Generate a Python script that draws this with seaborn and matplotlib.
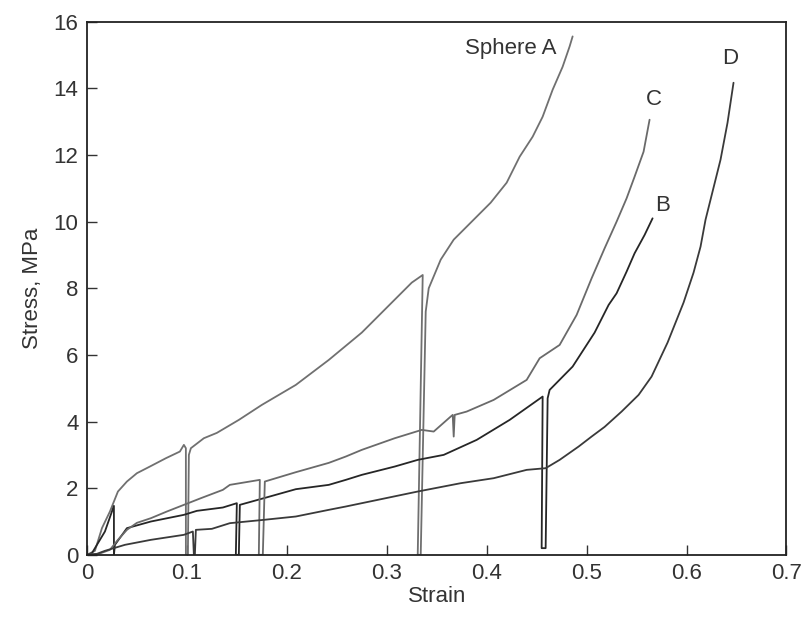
import pandas as pd
import seaborn as sns
import matplotlib.pyplot as plt

# strain / stress points (vertical segments = unload/reload)
strain_a = [0.0, 0.008, 0.015, 0.023, 0.031, 0.04, 0.05, 0.063, 0.079, 0.093, 0.097, 0.099,
            0.099, 0.101, 0.102, 0.104, 0.117, 0.13, 0.152, 0.175, 0.209, 0.242, 0.275, 0.291,
            0.308, 0.325, 0.336, 0.331, 0.334, 0.339, 0.342, 0.354, 0.367, 0.387, 0.404, 0.42,
            0.433, 0.446, 0.456, 0.466, 0.476, 0.483, 0.486]
stress_a = [0.0, 0.12, 0.8, 1.3, 1.9, 2.2, 2.45, 2.65, 2.9, 3.1, 3.3, 3.2,
            0.0, 0.0, 3.0, 3.2, 3.5, 3.66, 4.05, 4.5, 5.1, 5.85, 6.67, 7.15,
            7.66, 8.17, 8.4, 0.0, 0.0, 7.3, 8.0, 8.86, 9.46, 10.06, 10.57, 11.17,
            11.95, 12.55, 13.15, 13.96, 14.65, 15.26, 15.56]

strain_b = [0.0, 0.005, 0.018, 0.027, 0.027, 0.028, 0.04, 0.064, 0.097, 0.11, 0.136, 0.15,
            0.149, 0.152, 0.153, 0.177, 0.209, 0.242, 0.259, 0.275, 0.308, 0.331, 0.357, 0.39,
            0.423, 0.456, 0.455, 0.459, 0.461, 0.463, 0.486, 0.508, 0.522, 0.53, 0.54, 0.548,
            0.558, 0.566]
stress_b = [0.0, 0.05, 0.7, 1.47, 0.0, 0.3, 0.8, 1.0, 1.2, 1.32, 1.42, 1.55,
            0.0, 0.0, 1.5, 1.7, 1.97, 2.1, 2.25, 2.4, 2.65, 2.85, 3.0, 3.45,
            4.05, 4.75, 0.2, 0.2, 4.7, 4.95, 5.65, 6.67, 7.5, 7.85, 8.5, 9.05,
            9.6, 10.1]

strain_c = [0.0, 0.012, 0.023, 0.031, 0.04, 0.05, 0.064, 0.08, 0.097, 0.114, 0.136, 0.143,
            0.173, 0.172, 0.176, 0.178, 0.209, 0.242, 0.259, 0.275, 0.308, 0.335, 0.347, 0.364,
            0.366, 0.367, 0.368, 0.38, 0.407, 0.44, 0.453, 0.473, 0.49, 0.505, 0.518, 0.53,
            0.54, 0.548, 0.557, 0.563]
stress_c = [0.0, 0.03, 0.15, 0.45, 0.75, 0.96, 1.1, 1.3, 1.5, 1.7, 1.95, 2.1,
            2.25, 0.0, 0.0, 2.2, 2.48, 2.76, 2.95, 3.15, 3.5, 3.75, 3.7, 4.15,
            4.2, 3.55, 4.2, 4.3, 4.65, 5.25, 5.9, 6.3, 7.2, 8.3, 9.2, 10.0,
            10.7, 11.35, 12.1, 13.06]

strain_d = [0.0, 0.01, 0.018, 0.038, 0.064, 0.097, 0.106, 0.107, 0.108, 0.109, 0.125, 0.143,
            0.177, 0.209, 0.242, 0.259, 0.291, 0.331, 0.374, 0.407, 0.44, 0.459, 0.473, 0.492,
            0.505, 0.518, 0.535, 0.552, 0.565, 0.581, 0.597, 0.607, 0.614, 0.619, 0.624, 0.634,
            0.641, 0.647]
stress_d = [0.0, 0.03, 0.12, 0.3, 0.45, 0.6, 0.7, 0.0, 0.0, 0.75, 0.78, 0.95,
            1.05, 1.15, 1.35, 1.45, 1.65, 1.9, 2.15, 2.3, 2.55, 2.6, 2.85, 3.25,
            3.55, 3.84, 4.3, 4.8, 5.35, 6.37, 7.57, 8.47, 9.25, 10.06, 10.66, 11.86,
            12.97, 14.17]

curve_names = ['Sphere A', 'B', 'C', 'D']
label_text = ['Sphere A', 'B', 'C', 'D']
label_x = [0.47, 0.576, 0.567, 0.644]
label_y = [15.2, 10.5, 13.66, 14.9]

df = pd.concat([
    pd.DataFrame({'Strain': strain_a, 'Stress': stress_a, 'curve': 'Sphere A'}),
    pd.DataFrame({'Strain': strain_b, 'Stress': stress_b, 'curve': 'B'}),
    pd.DataFrame({'Strain': strain_c, 'Stress': stress_c, 'curve': 'C'}),
    pd.DataFrame({'Strain': strain_d, 'Stress': stress_d, 'curve': 'D'}),
], ignore_index=True)

sns.set_style('ticks')
plt.rcParams['font.family'] = ['Liberation Sans', 'DejaVu Sans']

fig = plt.figure(figsize=(8.05, 6.22), dpi=100)
ax = fig.add_axes([0.108, 0.108, 0.869, 0.857])

colors = {'Sphere A': '#707070', 'B': '#262626', 'C': '#6a6a6a', 'D': '#3a3a3a'}
for name in curve_names:
    sns.lineplot(data=df[df['curve'] == name], x='Strain', y='Stress', sort=False,
                 estimator=None, color=colors[name], linewidth=1.3, ax=ax)

for txt, x, y in zip(label_text, label_x, label_y):
    ha = 'right' if txt == 'Sphere A' else 'center'
    ax.text(x, y, txt, ha=ha, va='center', fontsize=16, color='#333333')

ax.set_xlim(0, 0.7)
ax.set_ylim(0, 16)
ax.set_xticks([0, 0.1, 0.2, 0.3, 0.4, 0.5, 0.6, 0.7])
ax.set_xticklabels(['0', '0.1', '0.2', '0.3', '0.4', '0.5', '0.6', '0.7'])
ax.set_yticks(range(0, 17, 2))
ax.tick_params(direction='in', length=7, width=1, labelsize=16, colors='#333333', pad=6)
for s in ax.spines.values():
    s.set_visible(True)
    s.set_linewidth(1.3)
    s.set_color('#222222')
ax.set_xlabel('Strain', fontsize=16, color='#333333', labelpad=1)
ax.set_ylabel('Stress, MPa', fontsize=16, color='#333333', labelpad=8)

plt.savefig('out.png', dpi=100)
